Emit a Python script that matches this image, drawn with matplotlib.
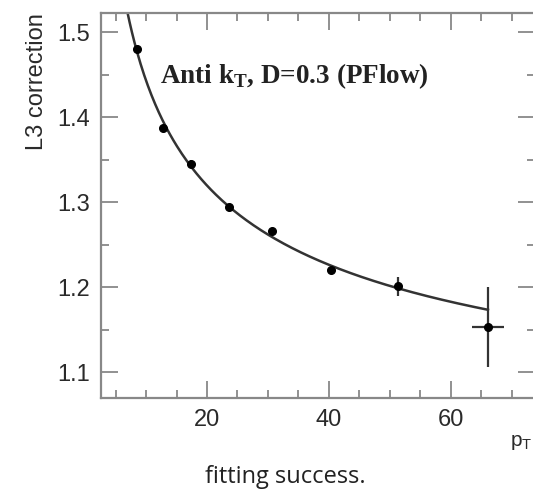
import numpy as np
import matplotlib
matplotlib.use("Agg")
import matplotlib.pyplot as plt
from matplotlib.ticker import MultipleLocator

plt.rcParams["font.family"] = ["Liberation Sans", "DejaVu Sans"]

# points
pt = [8.5, 12.8, 17.4, 23.6, 30.7, 40.3, 51.3, 66.1]
corr = [1.480, 1.387, 1.345, 1.294, 1.266, 1.220, 1.201, 1.153]
corr_err = [0.004, 0.004, 0.004, 0.004, 0.004, 0.004, 0.011, 0.047]
pt_err = [0, 0, 0, 0, 0, 0, 0, 2.6]

# fit a + b*x^-c to the points (grid over c, linear least squares for a, b)
x = np.array(pt)
y = np.array(corr)
w = 1 / np.array(corr_err)
best = None
for c in np.linspace(0.1, 1.5, 281):
    A = np.vstack([np.ones_like(x), x ** -c]).T
    sol, *_ = np.linalg.lstsq(A * w[:, None], y * w, rcond=None)
    chi2 = np.sum(((A @ sol - y) * w) ** 2)
    if best is None or chi2 < best[0]:
        best = (chi2, c, sol)
_, c, (a, b) = best
xf = np.linspace(6.5, pt[-1], 300)
yf = a + b * xf ** -c

fig = plt.figure(figsize=(5.33, 4.92), dpi=100)
ax = fig.add_axes([0.1895, 0.191, 0.814, 0.7825])

ax.plot(xf, yf, color="#333333", lw=1.8)
ax.errorbar(pt, corr, yerr=corr_err, xerr=pt_err, fmt="o", ms=5.5, color="black",
            ecolor="#333333", elinewidth=1.6, capsize=0)

ax.set_xlim(2.6, 73.8)
ax.set_ylim(1.0694, 1.5224)
ax.xaxis.set_major_locator(MultipleLocator(20))
ax.xaxis.set_minor_locator(MultipleLocator(5))
ax.yaxis.set_major_locator(MultipleLocator(0.1))
ax.yaxis.set_minor_locator(MultipleLocator(0.05))
ax.tick_params(which="both", direction="in", top=True, right=True, color="#888888",
               width=1.3, labelsize=17, labelcolor="#2a2a2a")
ax.tick_params(which="major", length=12, pad=8)
ax.tick_params(which="minor", length=6)
for s in ax.spines.values():
    s.set_color("#888888")
    s.set_linewidth(1.6)

ax.set_ylabel("L3 correction", fontsize=17, color="#2a2a2a", loc="top")
ax.yaxis.set_label_coords(-0.122, 1.0)

# x label, cut by the right edge in the original; only "p" and the subscript show
fig.text(510 / 533, 1 - 443 / 492, "p$_\\mathregular{T}$", fontsize=15, color="#2a2a2a",
         ha="left", va="center")

ax.text(0.136, 0.835, "Anti k$_\\mathregular{T}$, D=0.3 (PFlow)", transform=ax.transAxes,
        fontsize=19.5, fontweight="bold", family="Liberation Serif", color="#222222",
        va="center")

fig.text(0.535, 0.03, "fitting success.", fontsize=17, family="Open Sans",
         color="#222222", ha="center", va="center")

fig.savefig("out.png", dpi=100)
